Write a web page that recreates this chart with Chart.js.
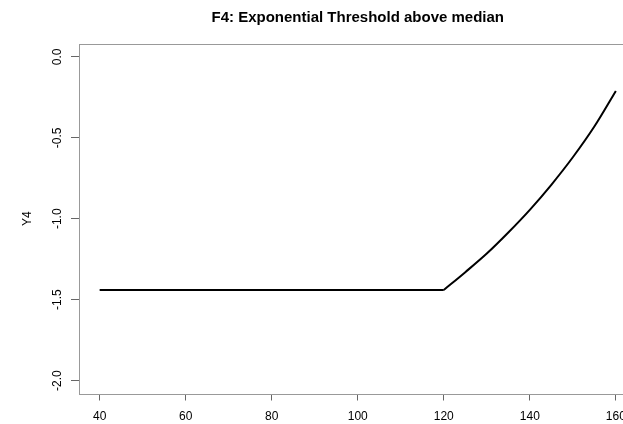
<!DOCTYPE html>
<html>
<head>
<meta charset="utf-8">
<script src="https://cdn.jsdelivr.net/npm/chart.js@4"></script>
<style>
  html, body { margin: 0; padding: 0; background: #fff; overflow: hidden; }
</style>
</head>
<body>
<canvas id="myChart" width="640" height="424"></canvas>
<script>
// data
var xValues = [40, 120, 125, 130, 135, 140, 145, 150, 155, 160];
var yValues = [-1.44, -1.44, -1.33, -1.215, -1.085, -0.945, -0.79, -0.62, -0.43, -0.21];
var threshold = 120;
var xTicks = [40, 60, 80, 100, 120, 140, 160];
var yTicks = [0, -0.5, -1, -1.5, -2];
var yTickLabels = ['0.0', '-0.5', '-1.0', '-1.5', '-2.0'];

var points = xValues.map(function (x, i) { return { x: x, y: yValues[i] }; });
// flat part and the exponential part drawn as two pieces so the kink stays sharp
var flatPart = points.filter(function (p) { return p.x <= threshold; });
var expPart = points.filter(function (p) { return p.x >= threshold; });

// R style box around the plot region
var boxPlugin = {
    id: 'box',
    afterDraw: function (chart) {
        var a = chart.chartArea;
        var c = chart.ctx;
        c.save();
        c.strokeStyle = '#999';
        c.lineWidth = 1;
        c.strokeRect(Math.round(a.left) + 0.5, Math.round(a.top) + 0.5,
            Math.round(a.right - a.left), Math.round(a.bottom - a.top));
        c.restore();
    }
};

var ctx = document.getElementById('myChart').getContext('2d');

var myChart = new Chart(ctx, {
    type: 'line',
    data: {
        datasets: [{
            data: flatPart,
            borderColor: '#000',
            borderWidth: 2,
            pointRadius: 0,
            tension: 0,
            fill: false
        }, {
            data: expPart,
            borderColor: '#000',
            borderWidth: 2,
            pointRadius: 0,
            cubicInterpolationMode: 'monotone',
            fill: false
        }]
    },
    options: {
        responsive: false,
        animation: false,
        layout: { padding: { left: 0, right: 3.5, top: 0, bottom: 0 } },
        plugins: {
            legend: { display: false },
            tooltip: { enabled: false },
            title: {
                display: true,
                fullSize: false,
                text: 'F4: Exponential Threshold above median',
                color: '#000',
                font: { family: 'Liberation Sans', size: 15, weight: 'bold', lineHeight: 1.2 },
                padding: { top: 9, bottom: 17 }
            }
        },
        scales: {
            x: {
                type: 'linear',
                min: 35.2,
                max: 164.8,
                afterBuildTicks: function (scale) {
                    scale.ticks = xTicks.map(function (v) { return { value: v }; });
                },
                afterFit: function (scale) { scale.height = 30.5; },
                border: { display: false },
                grid: { drawOnChartArea: false, drawTicks: true, tickLength: 7, color: '#666' },
                ticks: {
                    color: '#000',
                    maxRotation: 0,
                    padding: 9,
                    font: { family: 'Liberation Sans', size: 12 },
                    callback: function (v) { return String(v); }
                }
            },
            y: {
                type: 'linear',
                min: -2.08,
                max: 0.08,
                afterBuildTicks: function (scale) {
                    scale.ticks = yTicks.map(function (v) { return { value: v }; });
                },
                afterFit: function (scale) { scale.width = 79; },
                border: { display: false },
                grid: { drawOnChartArea: false, drawTicks: true, tickLength: 8, color: '#666' },
                title: {
                    display: true,
                    text: 'Y4',
                    color: '#000',
                    font: { family: 'Liberation Sans', size: 12 },
                    padding: { top: 20, bottom: 0 }
                },
                ticks: {
                    color: '#000',
                    minRotation: 90,
                    maxRotation: 90,
                    crossAlign: 'center',
                    padding: 3,
                    font: { family: 'Liberation Sans', size: 12 },
                    callback: function (v) {
                        var i = yTicks.indexOf(v);
                        return i >= 0 ? yTickLabels[i] : '';
                    }
                }
            }
        }
    },
    plugins: [boxPlugin]
});
</script>
</body>
</html>
